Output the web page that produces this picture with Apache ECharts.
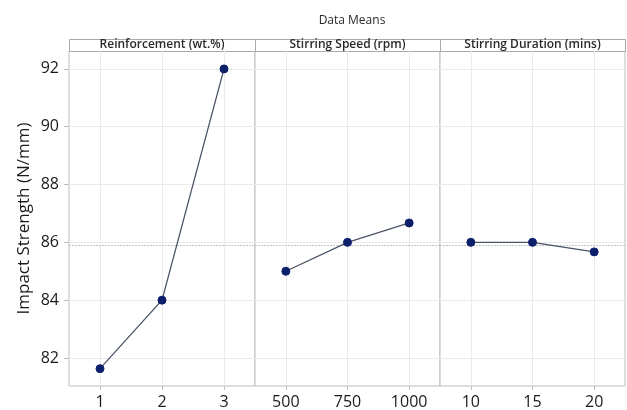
<!DOCTYPE html>
<html>
<head>
<meta charset="utf-8">
<script src="https://cdn.jsdelivr.net/npm/echarts@6/dist/echarts.min.js"></script>
<style>
  html, body { margin: 0; padding: 0; background: #fff; }
  #chart { width: 627px; height: 410px; }
</style>
</head>
<body>
<div id="chart"></div>
<script>
// Main-effects means for impact strength, one panel per factor
const factorNames = ['Reinforcement (wt.%)', 'Stirring Speed (rpm)', 'Stirring Duration (mins)'];
const reinforcementLevels = ['1', '2', '3'];
const speedLevels = ['500', '750', '1000'];
const durationLevels = ['10', '15', '20'];
const reinforcementMeans = [81.63, 84.0, 92.0];
const speedMeans = [85.0, 86.0, 86.67];
const durationMeans = [86.0, 86.0, 85.67];
const grandMean = 85.89;
const yTicks = [82, 84, 86, 88, 90, 92];

const levels = [reinforcementLevels, speedLevels, durationLevels];
const means = [reinforcementMeans, speedMeans, durationMeans];

const FONT = '"Open Sans", "Noto Sans", sans-serif';
const panelLeft = [69, 255, 440];
const panelWidth = [186, 185, 185];
const plotTop = 51, plotBottom = 24;
const yMin = 81.03, yMax = 92.62;

const grids = [], xAxes = [], yAxes = [], series = [], graphics = [];

for (let i = 0; i < 3; i++) {
  grids.push({
    left: panelLeft[i], width: panelWidth[i], top: plotTop, bottom: plotBottom,
    show: true, borderColor: '#bdbdbd', borderWidth: 1, backgroundColor: '#fff'
  });
  xAxes.push({
    type: 'category', gridIndex: i, data: levels[i], boundaryGap: true,
    axisLine: { show: false },
    axisTick: { show: true, alignWithLabel: true, length: 4, lineStyle: { color: '#bdbdbd' } },
    axisLabel: { fontFamily: FONT, fontSize: 16, fontWeight: 500, color: '#1a1a1a', margin: 8 },
    splitLine: { show: true, alignWithLabel: true, lineStyle: { color: '#ebebeb' } }
  });
  yAxes.push({
    type: 'value', gridIndex: i, min: yMin, max: yMax,
    name: i === 0 ? 'Impact Strength (N/mm)' : '',
    nameLocation: 'middle', nameGap: 36,
    nameTextStyle: { fontFamily: FONT, fontSize: 17, fontWeight: 500, color: '#1a1a1a' },
    axisLine: { show: false },
    axisTick: { show: i === 0, length: 5, customValues: yTicks, lineStyle: { color: '#bdbdbd' } },
    axisLabel: { show: i === 0, customValues: yTicks, fontFamily: FONT, fontSize: 16, fontWeight: 500, color: '#1a1a1a', margin: 10 },
    splitLine: { show: true, lineStyle: { color: '#ebebeb' } }
  });
  series.push({
    type: 'line', xAxisIndex: i, yAxisIndex: i, data: means[i],
    symbol: 'circle', symbolSize: 8,
    itemStyle: { color: '#0b1f6b', borderColor: '#0b1f6b' },
    lineStyle: { color: '#4a5468', width: 1.3 },
    z: 5,
    markLine: {
      silent: true, symbol: 'none', label: { show: false },
      lineStyle: { color: '#c4c4c4', type: [2, 1], width: 1 },
      data: [{ yAxis: grandMean }]
    }
  });
  // factor header strip above each panel
  graphics.push({
    type: 'rect', left: panelLeft[i], top: 39,
    shape: { width: panelWidth[i], height: 12 },
    style: { fill: '#fff', stroke: '#a9a9a9', lineWidth: 1 }
  });
  graphics.push({
    type: 'text', x: panelLeft[i] + panelWidth[i] / 2, y: 45,
    style: {
      text: factorNames[i], fontFamily: FONT, fontSize: 12, fontWeight: 600,
      fill: '#2a2a2a', align: 'center', verticalAlign: 'middle'
    }
  });
}

const chart = echarts.init(document.getElementById('chart'), null, { renderer: 'canvas' });
chart.setOption({
  animation: false,
  backgroundColor: '#fff',
  title: {
    text: 'Data Means', left: 347, textAlign: 'center', top: 10,
    textStyle: { fontFamily: FONT, fontSize: 12, fontWeight: 'normal', color: '#2a2a2a' }
  },
  grid: grids,
  xAxis: xAxes,
  yAxis: yAxes,
  series: series,
  graphic: graphics
});
</script>
</body>
</html>
